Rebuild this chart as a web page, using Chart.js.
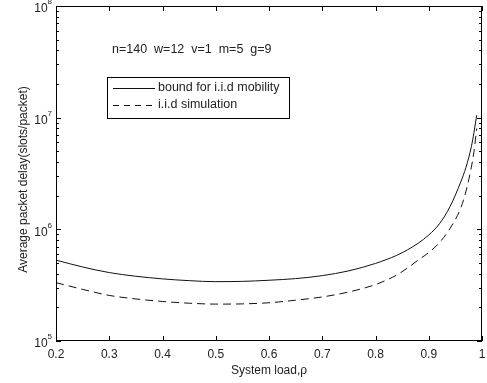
<!DOCTYPE html>
<html><head><meta charset="utf-8">
<script src="https://cdn.jsdelivr.net/npm/chart.js@4"></script>
<style>html,body{margin:0;padding:0;background:#fff}#wrap{width:487px;height:383px}</style>
</head><body><div id="wrap"><canvas id="c" width="487" height="383"></canvas></div>
<script>
const loads      = [0.2, 0.25, 0.3, 0.35, 0.4, 0.45, 0.5, 0.55, 0.6, 0.65, 0.7, 0.75, 0.8, 0.82, 0.84, 0.86, 0.88, 0.9, 0.92, 0.94, 0.96, 0.97, 0.98, 0.985, 0.99];
const boundDelay = [5.3e5, 4.6e5, 4.1e5, 3.8e5, 3.6e5, 3.47e5, 3.4e5, 3.42e5, 3.5e5, 3.62e5, 3.85e5, 4.25e5, 4.95e5, 5.35e5, 5.85e5, 6.55e5, 7.5e5, 8.9e5, 1.12e6, 1.6e6, 2.65e6, 3.6e6, 5.5e6, 7.4e6, 1.05e7];
const simDelay   = [3.33e5, 2.9e5, 2.56e5, 2.38e5, 2.26e5, 2.18e5, 2.14e5, 2.15e5, 2.2e5, 2.32e5, 2.48e5, 2.75e5, 3.2e5, 3.5e5, 3.9e5, 4.5e5, 5.3e5, 6.2e5, 7.6e5, 1.02e6, 1.55e6, 2.2e6, 3.6e6, 5.0e6, 8.0e6];
const xTicks      = [0.2, 0.3, 0.4, 0.5, 0.6, 0.7, 0.8, 0.9, 1];
const xTickLabels = ['0.2', '0.3', '0.4', '0.5', '0.6', '0.7', '0.8', '0.9', '1'];
const yDecades    = [5, 6, 7, 8];
const seriesNames = ['bound for i.i.d mobility', 'i.i.d simulation'];
const annotation  = 'n=140  w=12  v=1  m=5  g=9';
const xTitle = 'System load,\u03c1';
const yTitle = 'Average packet delay(slots/packet)';

const FONT = '"Liberation Sans", Arial, sans-serif';
const INK = '#222';

const frame = {
  id: 'frame',
  afterDraw(chart) {
    const ctx = chart.ctx, a = chart.chartArea;
    const xs = chart.scales.x, ys = chart.scales.y;
    ctx.save();
    ctx.strokeStyle = '#000';
    ctx.lineWidth = 1;
    ctx.strokeRect(Math.round(a.left) + 0.5, Math.round(a.top) + 0.5, Math.round(a.right - a.left) - 1, Math.round(a.bottom - a.top) - 1);
    ctx.beginPath();
    xTicks.forEach(v => {
      const px = Math.round(xs.getPixelForValue(v)) + 0.5;
      ctx.moveTo(px, a.bottom); ctx.lineTo(px, a.bottom - 5);
      ctx.moveTo(px, a.top); ctx.lineTo(px, a.top + 5);
    });
    yDecades.forEach((d, i) => {
      const py = Math.round(ys.getPixelForValue(Math.pow(10, d))) + 0.5;
      ctx.moveTo(a.left, py); ctx.lineTo(a.left + 5, py);
      ctx.moveTo(a.right, py); ctx.lineTo(a.right - 5, py);
      if (i < yDecades.length - 1) {
        for (let k = 2; k <= 9; k++) {
          const pm = Math.round(ys.getPixelForValue(k * Math.pow(10, d))) + 0.5;
          ctx.moveTo(a.left, pm); ctx.lineTo(a.left + 3, pm);
          ctx.moveTo(a.right, pm); ctx.lineTo(a.right - 3, pm);
        }
      }
    });
    ctx.stroke();

    ctx.fillStyle = INK;
    ctx.font = '12px ' + FONT;
    ctx.textAlign = 'center'; ctx.textBaseline = 'middle';
    xTicks.forEach((v, i) => ctx.fillText(xTickLabels[i], xs.getPixelForValue(v), a.bottom + 14));
    yDecades.forEach(d => {
      const py = ys.getPixelForValue(Math.pow(10, d));
      ctx.font = '8px ' + FONT;
      const sup = String(d);
      const sw = ctx.measureText(sup).width;
      ctx.textAlign = 'left';
      ctx.fillText(sup, a.left - 4 - sw, py - 4);
      ctx.font = '12px ' + FONT;
      ctx.textAlign = 'right';
      ctx.fillText('10', a.left - 4 - sw, py + 3);
    });
    ctx.font = '12px ' + FONT;
    ctx.textAlign = 'center';
    ctx.fillText(xTitle, (a.left + a.right) / 2, a.bottom + 30);
    ctx.save();
    ctx.translate(24, (a.top + a.bottom) / 2 + 6);
    ctx.rotate(-Math.PI / 2);
    ctx.fillText(yTitle, 0, 0);
    ctx.restore();
    ctx.font = '12.5px ' + FONT;
    ctx.textAlign = 'left';
    ctx.fillText(annotation, 112, 50);
    ctx.fillStyle = '#fff';
    ctx.fillRect(107, 77, 182, 41);
    ctx.strokeStyle = '#000';
    ctx.strokeRect(107.5, 77.5, 182, 41);
    ctx.strokeStyle = '#111';
    ctx.beginPath(); ctx.moveTo(113, 88.5); ctx.lineTo(155, 88.5); ctx.stroke();
    ctx.setLineDash([6, 5]);
    ctx.beginPath(); ctx.moveTo(113, 105.5); ctx.lineTo(155, 105.5); ctx.stroke();
    ctx.setLineDash([]);
    ctx.fillStyle = INK;
    ctx.fillText(seriesNames[0], 158, 88);
    ctx.fillText(seriesNames[1], 158, 105);
    ctx.restore();
  }
};

new Chart(document.getElementById('c'), {
  type: 'line',
  data: {
    datasets: [
      { label: seriesNames[0], data: loads.map((x, i) => ({x, y: boundDelay[i]})), borderColor: '#111', borderWidth: 1, pointRadius: 0, cubicInterpolationMode: 'monotone', fill: false },
      { label: seriesNames[1], data: loads.map((x, i) => ({x, y: simDelay[i]})), borderColor: '#111', borderWidth: 1, borderDash: [8, 5], pointRadius: 0, cubicInterpolationMode: 'monotone', fill: false }
    ]
  },
  options: {
    responsive: false, animation: false, devicePixelRatio: 1,
    layout: { padding: { left: 56, right: 5, top: 6, bottom: 42 } },
    plugins: { legend: { display: false }, tooltip: { enabled: false } },
    scales: {
      x: { type: 'linear', min: 0.2, max: 1, display: false },
      y: { type: 'logarithmic', min: 1e5, max: 1e8, display: false }
    }
  },
  plugins: [frame]
});
</script></body></html>
